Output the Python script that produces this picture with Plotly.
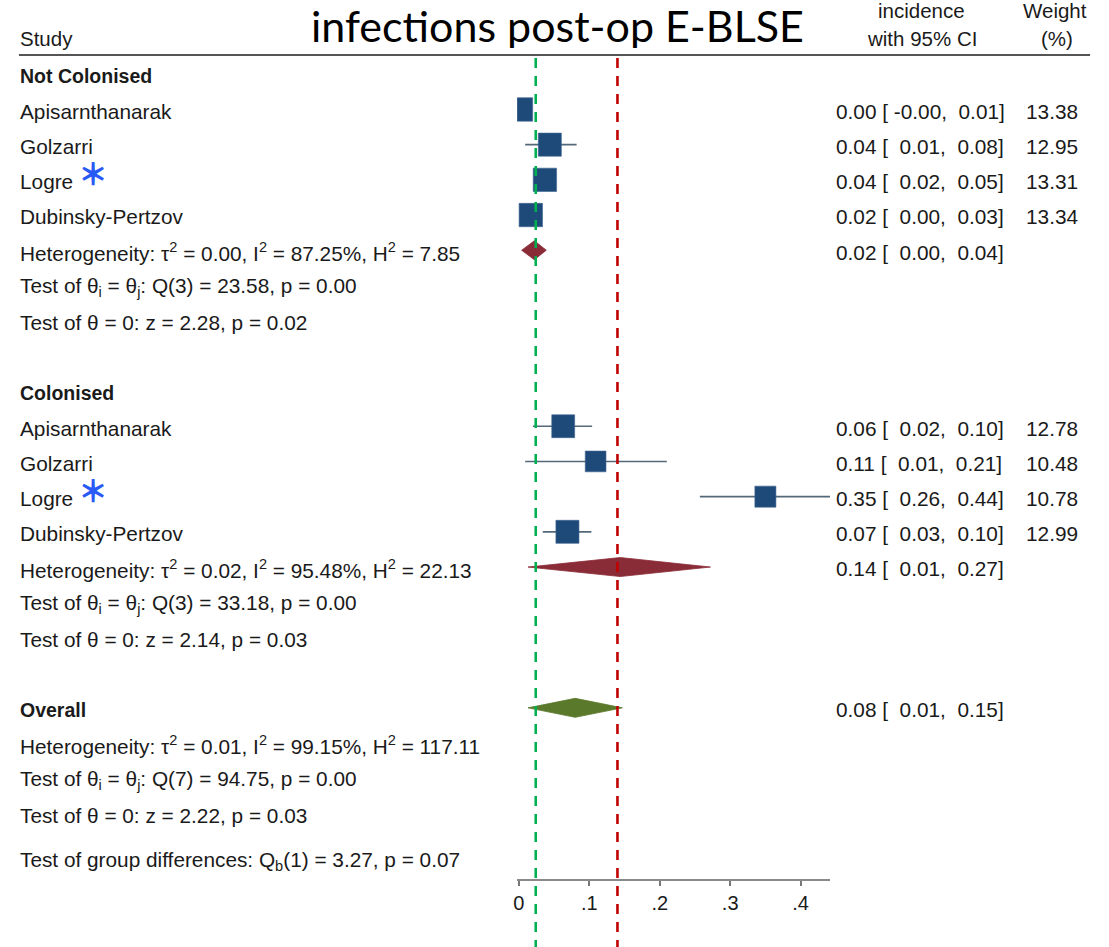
import math
import plotly.graph_objects as go

# ---- data -------------------------------------------------------------
studies = ["Apisarnthanarak", "Golzarri", "Logre", "Dubinsky-Pertzov"]
starred = [False, False, True, False]

# Not colonised
nc_es = [0.003, 0.044, 0.037, 0.017]
nc_lo = [-0.002, 0.009, 0.022, 0.004]
nc_hi = [0.008, 0.082, 0.052, 0.030]
nc_w = [13.38, 12.95, 13.31, 13.34]
nc_pool = [0.022, 0.004, 0.039]          # estimate, lower, upper
nc_het = [0.00, 87.25, 7.85]             # tau2, I2, H2
nc_q = [3, 23.58, 0.00]                  # df, Q, p
nc_z = [2.28, 0.02]                      # z, p

# Colonised
col_es = [0.063, 0.109, 0.350, 0.069]
col_lo = [0.020, 0.009, 0.257, 0.034]
col_hi = [0.104, 0.210, 0.444, 0.103]
col_w = [12.78, 10.48, 10.78, 12.99]
col_pool = [0.144, 0.013, 0.272]
col_het = [0.02, 95.48, 22.13]
col_q = [3, 33.18, 0.00]
col_z = [2.14, 0.03]

# Overall
ov_pool = [0.080, 0.013, 0.147]
ov_het = [0.01, 99.15, 117.11]
ov_q = [7, 94.75, 0.00]
ov_z = [2.22, 0.03]
group_diff = [1, 3.27, 0.07]             # df, Qb, p

ref_green = 0.024
ref_red = 0.14

x_ticks = [0, 0.1, 0.2, 0.3, 0.4]
x_ticklabels = ["0", ".1", ".2", ".3", ".4"]

# ---- layout constants --------------------------------------------------
W, H = 1109, 947
ROW0_PX, ROW_PX, AXIS_PX = 76.0, 35.2, 879.0
TXT = "#1a1a1a"
FONT = "Liberation Sans, Arial, Helvetica, sans-serif"
FS = 20.8          # regular body text
FS_B = 19.5        # bold group headings
FS_H = 20.5        # column headers
SQ_COL = "#1e4a79"
CI_COL = "#536879"
POOL_COL = "#8a2c37"
OV_COL = "#5a792b"
STAR_COL = "#2a5af5"


def px(x):
    return x / W


def py(y):
    return 1 - y / H


def fmt_ci(es, lo, hi):
    s = f"{es:.2f} [{lo:6.2f}, {hi:5.2f}]"
    return s.replace(" ", "\u00a0")


def het_txt(h):
    return (f"Heterogeneity: \u03c4<sup>2</sup> = {h[0]:.2f}, I<sup>2</sup> = {h[1]:.2f}%, "
            f"H<sup>2</sup> = {h[2]:.2f}")


def q_txt(q):
    return (f"Test of \u03b8<sub>i</sub> = \u03b8<sub>j</sub>: Q({q[0]}) = {q[1]:.2f}, "
            f"p = {q[2]:.2f}")


def z_txt(z):
    return f"Test of \u03b8 = 0: z = {z[0]:.2f}, p = {z[1]:.2f}"


fig = go.Figure()
ann = []


def label(text, row, bold=False):
    ann.append(dict(text=f"<b>{text}</b>" if bold else text, x=px(14), xref="paper",
                    xanchor="left", y=row, yref="y", yanchor="middle", showarrow=False,
                    font=dict(family=FONT, size=FS_B if bold else FS, color=TXT)))


def right_cols(row, est_text, weight=None):
    ann.append(dict(text=est_text, x=px(833), xref="paper", xanchor="left", y=row, yref="y",
                    yanchor="middle", showarrow=False,
                    font=dict(family=FONT, size=FS, color=TXT)))
    if weight is not None:
        ann.append(dict(text=f"{weight:.2f}", x=px(1080), xref="paper", xanchor="right",
                        y=row, yref="y", yanchor="middle", showarrow=False,
                        font=dict(family=FONT, size=FS, color=TXT)))


def star(row):
    # full-width asterisk: its ink sits in the middle of the line box
    ann.append(dict(text="\uff0a", x=px(89), xref="paper", xanchor="center", y=row - 0.27,
                    yref="y", yanchor="middle", showarrow=False,
                    font=dict(family="Noto Sans CJK JP, sans-serif", size=30,
                              weight=900, color=STAR_COL)))


def diamond(pool, row, color):
    es, lo, hi = pool
    h = 0.27
    fig.add_trace(go.Scatter(x=[lo, es, hi, es, lo], y=[row, row - h, row, row + h, row],
                             mode="lines", fill="toself", fillcolor=color,
                             line=dict(width=0.8, color=color), hoverinfo="skip",
                             showlegend=False))


def section(name, first_row, es, lo, hi, w, pool, het, q, z, pool_col):
    label(name, first_row, bold=True)
    rows = [first_row + 1 + i for i in range(len(studies))]
    cx, cy = [], []
    for r, a, b in zip(rows, lo, hi):
        cx += [a, b, None]
        cy += [r - 0.05, r - 0.05, None]
    fig.add_trace(go.Scatter(x=cx, y=cy, mode="lines", line=dict(color=CI_COL, width=1.6),
                             hoverinfo="skip", showlegend=False))
    fig.add_trace(go.Scatter(x=es, y=[r - 0.05 for r in rows], mode="markers",
                             marker=dict(symbol="square", color=SQ_COL, opacity=1,
                                         size=[6.4 * math.sqrt(v) for v in w],
                                         line=dict(color="#3d6390", width=0.6)),
                             hoverinfo="skip", showlegend=False))
    for i, (r, s) in enumerate(zip(rows, studies)):
        label(s, r)
        right_cols(r, fmt_ci(es[i], lo[i], hi[i]), w[i])
        if starred[i]:
            star(r)
    pr = first_row + 1 + len(studies)
    diamond(pool, pr - 0.05, pool_col)
    label(het_txt(het), pr)
    right_cols(pr, fmt_ci(*pool))
    label(q_txt(q), pr + 1)
    label(z_txt(z), pr + 2)


section("Not Colonised", 0, nc_es, nc_lo, nc_hi, nc_w, nc_pool, nc_het, nc_q, nc_z, POOL_COL)
section("Colonised", 9, col_es, col_lo, col_hi, col_w, col_pool, col_het, col_q, col_z, POOL_COL)

# overall
label("Overall", 18, bold=True)
diamond(ov_pool, 18 - 0.05, OV_COL)
right_cols(18, fmt_ci(*ov_pool))
label(het_txt(ov_het), 19)
label(q_txt(ov_q), 20)
label(z_txt(ov_z), 21)
label(f"Test of group differences: Q<sub>b</sub>({group_diff[0]}) = {group_diff[1]:.2f}, "
      f"p = {group_diff[2]:.2f}", 22.3)

# headers
hfont = dict(family=FONT, size=FS_H, color=TXT)
ann += [
    dict(text="Study", x=px(14), xref="paper", xanchor="left", y=py(38), yref="paper",
         yanchor="middle", showarrow=False, font=hfont),
    dict(text="incidence", x=px(921), xref="paper", xanchor="center", y=py(11),
         yref="paper", yanchor="middle", showarrow=False, font=hfont),
    dict(text="with 95% CI", x=px(921), xref="paper", xanchor="center", y=py(38),
         yref="paper", yanchor="middle", showarrow=False, font=hfont),
    dict(text="Weight", x=px(1055), xref="paper", xanchor="center", y=py(11),
         yref="paper", yanchor="middle", showarrow=False, font=hfont),
    dict(text="(%)", x=px(1057), xref="paper", xanchor="center", y=py(38),
         yref="paper", yanchor="middle", showarrow=False, font=hfont),
    dict(text="infections post-op E-BLSE", x=px(556), xref="paper", xanchor="center",
         y=py(0), yref="paper", yanchor="top", height=46, valign="middle",
         showarrow=False,
         font=dict(family="Lato, Carlito, sans-serif", size=43, color="#000000")),
]

shapes = [
    dict(type="line", xref="paper", yref="paper", x0=px(15), x1=px(1090), y0=py(55),
         y1=py(55), line=dict(color="#555555", width=1.8)),
    dict(type="line", xref="x", yref="paper", x0=ref_green, x1=ref_green, y0=py(58), y1=0,
         line=dict(color="#00b050", width=2.6, dash="10px,8px")),
    dict(type="line", xref="x", yref="paper", x0=ref_red, x1=ref_red, y0=py(58), y1=0,
         line=dict(color="#c00000", width=2.6, dash="10px,8px")),
]

x0_px = 515.0
x1_px = 829.0
zero_px, unit_px = 516.7, 707.0
fig.update_layout(
    width=W, height=H, margin=dict(l=0, r=0, t=0, b=0),
    paper_bgcolor="white", plot_bgcolor="white",
    annotations=ann, shapes=shapes, showlegend=False,
    xaxis=dict(domain=[px(x0_px), px(x1_px)],
               range=[(x0_px - zero_px) / unit_px, (x1_px - zero_px) / unit_px],
               tickvals=x_ticks, ticktext=x_ticklabels, ticks="outside", ticklen=5,
               tickwidth=1.5, tickcolor="#777777", showline=True, linecolor="#8a8a8a",
               linewidth=1.6, showgrid=False, zeroline=False,
               tickfont=dict(family=FONT, size=20, color=TXT), fixedrange=True),
    yaxis=dict(domain=[1 - AXIS_PX / H, 1],
               range=[(AXIS_PX - ROW0_PX) / ROW_PX, -ROW0_PX / ROW_PX],
               visible=False, showgrid=False, zeroline=False, fixedrange=True),
)

fig.write_html("out.html")
